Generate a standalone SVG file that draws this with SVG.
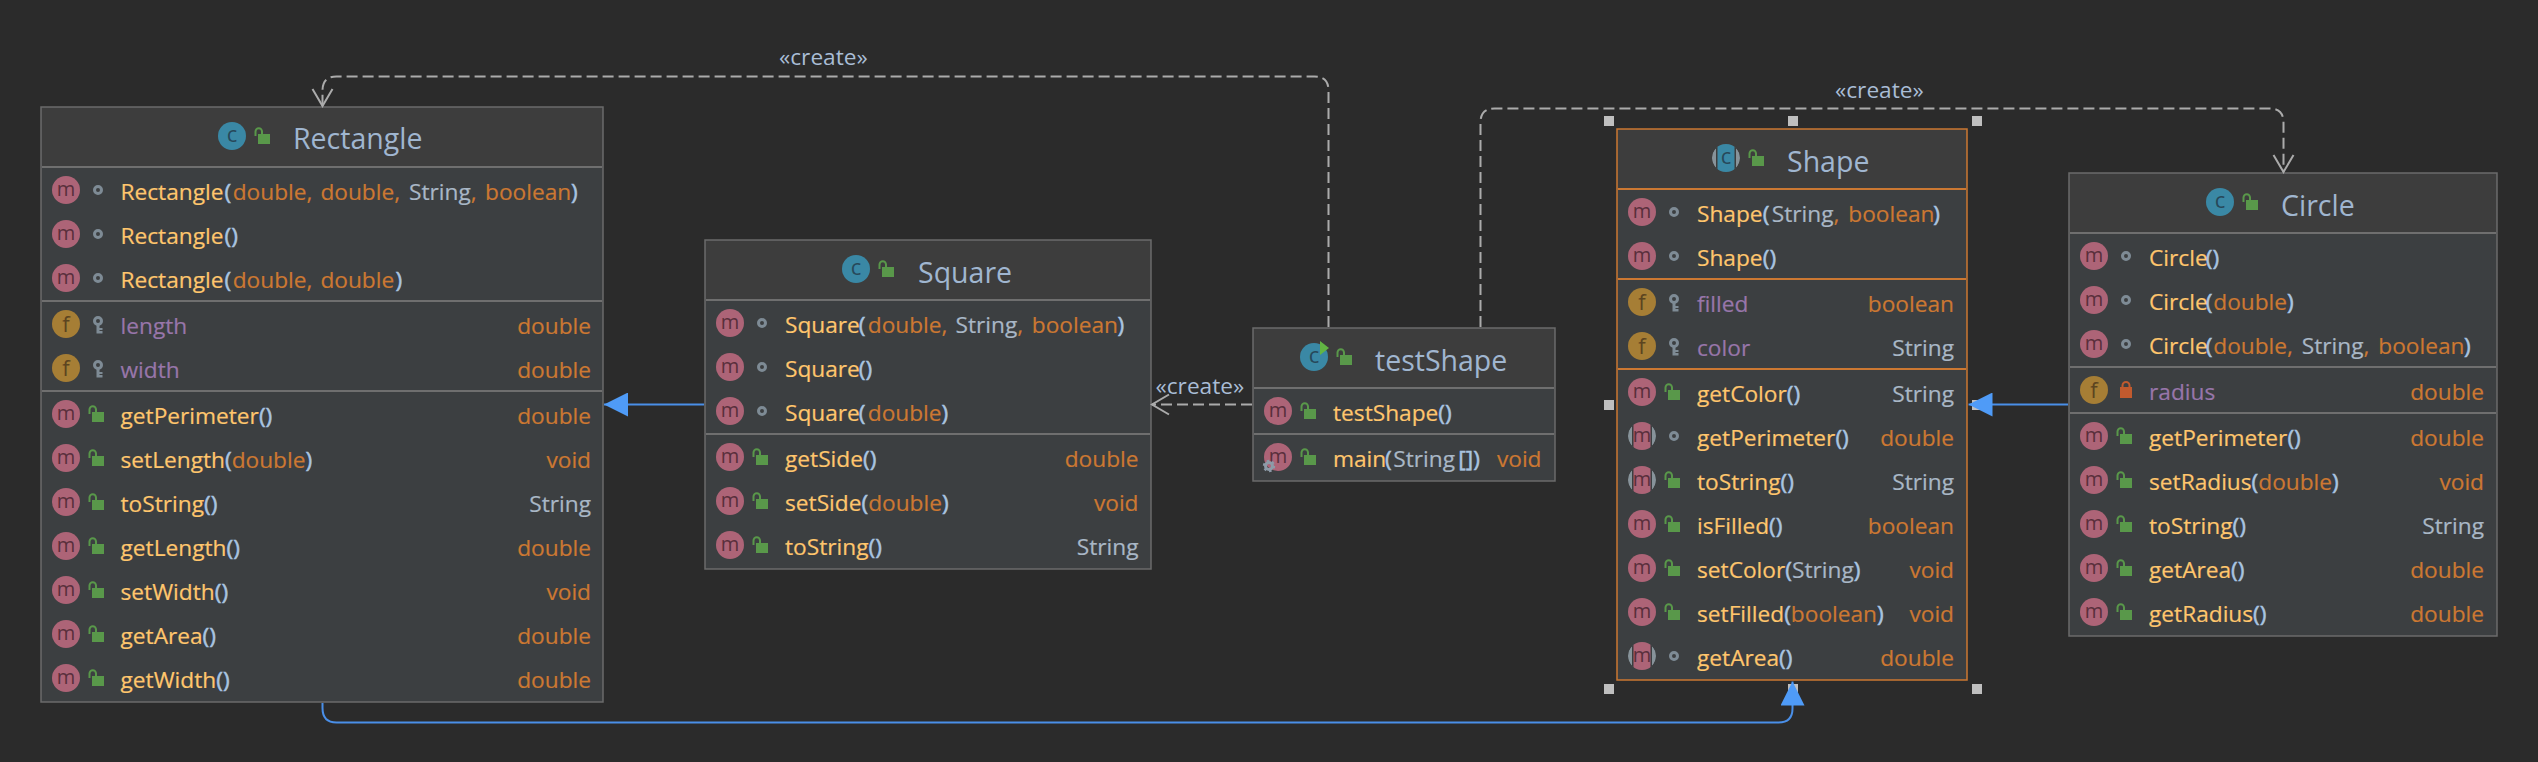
<svg xmlns="http://www.w3.org/2000/svg" width="2538" height="762" viewBox="0 0 2538 762">
<style>
text{font-family:"Open Sans","Noto Sans","Liberation Sans",sans-serif;font-size:22.7px}
.box{fill:#3c3f41;stroke:#6b6b6b;stroke-width:1.5}
.sel{stroke:#cc7832}
.hd{fill:#3d3d3d}
.dv{stroke:#6f6f6f;stroke-width:2;fill:none}
.dvs{stroke:#cc7832;stroke-width:2;fill:none}
.title{font-size:28.5px;fill:#a0b6d0}
.n{fill:#ffc66d;stroke:#ffc66d;stroke-width:.2}
.p{fill:#a9c4e0;stroke:#a9c4e0;stroke-width:.5}
.t{fill:#cc7832;stroke:#cc7832;stroke-width:.2}
.s{fill:#a9b7c6;stroke:#a9b7c6;stroke-width:.2}
.f{fill:#9876aa;stroke:#9876aa;stroke-width:.2}
.r{text-anchor:end}
.lbl{fill:#a9bdd6;font-size:22.7px}
.dash{fill:none;stroke:#ababab;stroke-width:2;stroke-dasharray:11 5}
.gen{fill:none;stroke:#4a8fe8;stroke-width:2}
.h{fill:#bfbfbf}
.il{text-anchor:middle}
</style>
<defs>
<clipPath id="cp"><circle r="14"/></clipPath>
<marker id="open" viewBox="-1 -12 20 24" refX="17" refY="0" markerWidth="20" markerHeight="24" markerUnits="userSpaceOnUse" orient="auto"><path d="M0 -10L17 0L0 10" fill="none" stroke="#ababab" stroke-width="2"/></marker>
<marker id="tri" viewBox="0 -12 24 24" refX="24" refY="0" markerWidth="24" markerHeight="24" markerUnits="userSpaceOnUse" orient="auto"><path d="M0 -12L24 0L0 12Z" fill="#4f9bf7"/></marker>
<g id="im"><circle r="14" fill="#ad6477"/><text class="il" y="5.5" style="font-size:20px;fill:#592f3c">m</text></g>
<g id="ima"><g clip-path="url(#cp)"><circle r="14" fill="#87939a"/><rect x="-10" y="-14" width="20" height="28" fill="#3c3f41"/><rect x="-8.5" y="-14" width="17" height="28" fill="#ad6477"/></g><text class="il" y="5.5" style="font-size:20px;fill:#592f3c">m</text></g>
<g id="if"><circle r="14" fill="#a67e35"/><text class="il" y="8" style="font-size:22px;fill:#5c4420">f</text></g>
<g id="ic"><circle r="14" fill="#3a88a5"/><text class="il" y="6" style="font-size:22px;fill:#27485a">c</text></g>
<g id="ica"><g clip-path="url(#cp)"><circle r="14" fill="#87939a"/><rect x="-10" y="-14" width="20" height="28" fill="#3d3d3d"/><rect x="-8.5" y="-14" width="17" height="28" fill="#3a88a5"/></g><text class="il" y="6" style="font-size:22px;fill:#27485a">c</text></g>
<g id="lo"><rect x="0" y="-2" width="12" height="10" fill="#59984a"/><path d="M-2.5 0V-4.5A3.2 3.2 0 0 1 4 -4.5V-2" fill="none" stroke="#59984a" stroke-width="2"/></g>
<g id="lp"><rect x="-6" y="-3" width="12" height="11" fill="#c15a2e"/><path d="M-3.5 -3V-4.5A3.5 3.5 0 0 1 3.5 -4.5V-3" fill="none" stroke="#c15a2e" stroke-width="2"/></g>
<g id="ring"><circle r="3.5" fill="none" stroke="#7e8b95" stroke-width="3"/></g>
<g id="key"><circle cy="-3" r="3.5" fill="none" stroke="#7e8b95" stroke-width="3"/><path d="M-1.5 1H1.5V4H4.5V6H1.5V7H4.5V9.5H-1.5Z" fill="#7e8b95"/></g>
<g id="gear"><circle r="3.5" fill="none" stroke="#8d9ba8" stroke-width="3"/><circle r="5.2" fill="none" stroke="#8d9ba8" stroke-width="2" stroke-dasharray="2.5 2.9"/></g>
</defs>
<rect width="2538" height="762" fill="#2b2b2b"/>

<g id="selection-handles" class="h">
<rect x="1604" y="116" width="10" height="10"/><rect x="1788" y="116" width="10" height="10"/><rect x="1972" y="116" width="10" height="10"/>
<rect x="1604" y="400" width="10" height="10"/><rect x="1972" y="400" width="10" height="10"/>
<rect x="1604" y="684" width="10" height="10"/><rect x="1788" y="684" width="10" height="10"/><rect x="1972" y="684" width="10" height="10"/>
</g>

<g id="node-rectangle">
<rect class="box" x="41" y="107" width="562" height="595"/>
<rect class="hd" x="42" y="108" width="560" height="59"/>
<use href="#ic" x="232" y="136"/><use href="#lo" x="258" y="136"/>
<text class="title" x="293" y="149">Rectangle</text>
<path class="dv" d="M42 167H602M42 301H602M42 391H602"/>
<use href="#im" x="66" y="190"/><use href="#ring" x="98" y="190"/>
<text x="120.5" y="200"><tspan class="n">Rectangle</tspan><tspan class="p" x="224.5">(</tspan><tspan class="t" x="232.7">double,</tspan><tspan class="t" x="320.4">double,</tspan><tspan class="s" x="409">String</tspan><tspan class="t">,</tspan><tspan class="t" x="485">boolean</tspan><tspan class="p" x="571">)</tspan></text>
<use href="#im" x="66" y="234"/><use href="#ring" x="98" y="234"/>
<text x="120.5" y="244"><tspan class="n">Rectangle</tspan><tspan class="p" x="224.5">()</tspan></text>
<use href="#im" x="66" y="278"/><use href="#ring" x="98" y="278"/>
<text x="120.5" y="288"><tspan class="n">Rectangle</tspan><tspan class="p" x="224.5">(</tspan><tspan class="t" x="232.7">double,</tspan><tspan class="t" x="320.4">double</tspan><tspan class="p" x="395.5">)</tspan></text>
<use href="#if" x="66" y="324"/><use href="#key" x="98" y="324"/>
<text class="f" x="120.5" y="334">length</text><text class="t r" x="591" y="334">double</text>
<use href="#if" x="66" y="368"/><use href="#key" x="98" y="368"/>
<text class="f" x="120.5" y="378">width</text><text class="t r" x="591" y="378">double</text>
<use href="#im" x="66" y="414"/><use href="#lo" x="92" y="414"/>
<text x="120.5" y="424"><tspan class="n">getPerimeter</tspan><tspan class="p">()</tspan></text><text class="t r" x="591" y="424">double</text>
<use href="#im" x="66" y="458"/><use href="#lo" x="92" y="458"/>
<text x="120.5" y="468"><tspan class="n">setLength</tspan><tspan class="p">(</tspan><tspan class="t">double</tspan><tspan class="p">)</tspan></text><text class="t r" x="591" y="468">void</text>
<use href="#im" x="66" y="502"/><use href="#lo" x="92" y="502"/>
<text x="120.5" y="512"><tspan class="n">toString</tspan><tspan class="p">()</tspan></text><text class="s r" x="591" y="512">String</text>
<use href="#im" x="66" y="546"/><use href="#lo" x="92" y="546"/>
<text x="120.5" y="556"><tspan class="n">getLength</tspan><tspan class="p">()</tspan></text><text class="t r" x="591" y="556">double</text>
<use href="#im" x="66" y="590"/><use href="#lo" x="92" y="590"/>
<text x="120.5" y="600"><tspan class="n">setWidth</tspan><tspan class="p">()</tspan></text><text class="t r" x="591" y="600">void</text>
<use href="#im" x="66" y="634"/><use href="#lo" x="92" y="634"/>
<text x="120.5" y="644"><tspan class="n">getArea</tspan><tspan class="p">()</tspan></text><text class="t r" x="591" y="644">double</text>
<use href="#im" x="66" y="678"/><use href="#lo" x="92" y="678"/>
<text x="120.5" y="688"><tspan class="n">getWidth</tspan><tspan class="p">()</tspan></text><text class="t r" x="591" y="688">double</text>
</g>

<g id="node-square">
<rect class="box" x="705" y="240" width="446" height="329"/>
<rect class="hd" x="706" y="241" width="444" height="59"/>
<use href="#ic" x="856" y="269"/><use href="#lo" x="882" y="269"/>
<text class="title" x="918" y="283">Square</text>
<path class="dv" d="M706 300H1150M706 434H1150"/>
<use href="#im" x="730" y="323"/><use href="#ring" x="762" y="323"/>
<text x="785" y="333"><tspan class="n">Square</tspan><tspan class="p" x="858.8">(</tspan><tspan class="t" x="867.8">double,</tspan><tspan class="s" x="955.5">String</tspan><tspan class="t">,</tspan><tspan class="t" x="1031.8">boolean</tspan><tspan class="p" x="1117.5">)</tspan></text>
<use href="#im" x="730" y="367"/><use href="#ring" x="762" y="367"/>
<text x="785" y="377"><tspan class="n">Square</tspan><tspan class="p" x="858.8">()</tspan></text>
<use href="#im" x="730" y="411"/><use href="#ring" x="762" y="411"/>
<text x="785" y="421"><tspan class="n">Square</tspan><tspan class="p" x="858.8">(</tspan><tspan class="t" x="867.8">double</tspan><tspan class="p">)</tspan></text>
<use href="#im" x="730" y="457"/><use href="#lo" x="756" y="457"/>
<text x="785" y="467"><tspan class="n">getSide</tspan><tspan class="p">()</tspan></text><text class="t r" x="1138.5" y="467">double</text>
<use href="#im" x="730" y="501"/><use href="#lo" x="756" y="501"/>
<text x="785" y="511"><tspan class="n">setSide</tspan><tspan class="p">(</tspan><tspan class="t">double</tspan><tspan class="p">)</tspan></text><text class="t r" x="1138.5" y="511">void</text>
<use href="#im" x="730" y="545"/><use href="#lo" x="756" y="545"/>
<text x="785" y="555"><tspan class="n">toString</tspan><tspan class="p">()</tspan></text><text class="s r" x="1138.5" y="555">String</text>
</g>

<g id="node-testshape">
<rect class="box" x="1253" y="328" width="302" height="153"/>
<rect class="hd" x="1254" y="329" width="300" height="59"/>
<use href="#ic" x="1314" y="357"/><path d="M1320 341L1329 348L1320 355Z" fill="#62b543"/><use href="#lo" x="1340" y="357"/>
<text class="title" x="1375" y="371">testShape</text>
<path class="dv" d="M1254 388H1554M1254 434H1554"/>
<use href="#im" x="1278" y="411"/><use href="#lo" x="1304" y="411"/>
<text x="1333" y="421"><tspan class="n">testShape</tspan><tspan class="p">()</tspan></text>
<use href="#im" x="1278" y="457"/><use href="#gear" x="1269" y="466"/><use href="#lo" x="1304" y="457"/>
<text x="1333" y="467"><tspan class="n">main</tspan><tspan class="p" x="1385">(</tspan><tspan class="s" x="1393.3">String</tspan><tspan class="p" x="1458.3">[])</tspan></text><text class="t r" x="1541.5" y="467">void</text>
</g>

<g id="node-shape">
<rect class="box sel" x="1617" y="129" width="350" height="551"/>
<rect class="hd" x="1618" y="130" width="348" height="59"/>
<use href="#ica" x="1726" y="158"/><use href="#lo" x="1752" y="158"/>
<text class="title" x="1787" y="172">Shape</text>
<path class="dvs" d="M1618 189H1966M1618 279H1966M1618 369H1966"/>
<use href="#im" x="1642" y="212"/><use href="#ring" x="1674" y="212"/>
<text x="1697" y="222"><tspan class="n">Shape</tspan><tspan class="p" x="1762.7">(</tspan><tspan class="s" x="1771.7">String</tspan><tspan class="t">,</tspan><tspan class="t" x="1848.3">boolean</tspan><tspan class="p" x="1933.3">)</tspan></text>
<use href="#im" x="1642" y="256"/><use href="#ring" x="1674" y="256"/>
<text x="1697" y="266"><tspan class="n">Shape</tspan><tspan class="p" x="1762.7">()</tspan></text>
<use href="#if" x="1642" y="302"/><use href="#key" x="1674" y="302"/>
<text class="f" x="1697" y="312">filled</text><text class="t r" x="1954" y="312">boolean</text>
<use href="#if" x="1642" y="346"/><use href="#key" x="1674" y="346"/>
<text class="f" x="1697" y="356">color</text><text class="s r" x="1954" y="356">String</text>
<use href="#im" x="1642" y="392"/><use href="#lo" x="1668" y="392"/>
<text x="1697" y="402"><tspan class="n">getColor</tspan><tspan class="p">()</tspan></text><text class="s r" x="1954" y="402">String</text>
<use href="#ima" x="1642" y="436"/><use href="#ring" x="1674" y="436"/>
<text x="1697" y="446"><tspan class="n">getPerimeter</tspan><tspan class="p">()</tspan></text><text class="t r" x="1954" y="446">double</text>
<use href="#ima" x="1642" y="480"/><use href="#lo" x="1668" y="480"/>
<text x="1697" y="490"><tspan class="n">toString</tspan><tspan class="p">()</tspan></text><text class="s r" x="1954" y="490">String</text>
<use href="#im" x="1642" y="524"/><use href="#lo" x="1668" y="524"/>
<text x="1697" y="534"><tspan class="n">isFilled</tspan><tspan class="p">()</tspan></text><text class="t r" x="1954" y="534">boolean</text>
<use href="#im" x="1642" y="568"/><use href="#lo" x="1668" y="568"/>
<text x="1697" y="578"><tspan class="n">setColor</tspan><tspan class="p">(</tspan><tspan class="s">String</tspan><tspan class="p">)</tspan></text><text class="t r" x="1954" y="578">void</text>
<use href="#im" x="1642" y="612"/><use href="#lo" x="1668" y="612"/>
<text x="1697" y="622"><tspan class="n">setFilled</tspan><tspan class="p">(</tspan><tspan class="t">boolean</tspan><tspan class="p">)</tspan></text><text class="t r" x="1954" y="622">void</text>
<use href="#ima" x="1642" y="656"/><use href="#ring" x="1674" y="656"/>
<text x="1697" y="666"><tspan class="n">getArea</tspan><tspan class="p">()</tspan></text><text class="t r" x="1954" y="666">double</text>
</g>

<g id="node-circle">
<rect class="box" x="2069" y="173" width="428" height="463"/>
<rect class="hd" x="2070" y="174" width="426" height="59"/>
<use href="#ic" x="2220" y="202"/><use href="#lo" x="2246" y="202"/>
<text class="title" x="2281" y="216">Circle</text>
<path class="dv" d="M2070 233H2496M2070 367H2496M2070 413H2496"/>
<use href="#im" x="2094" y="256"/><use href="#ring" x="2126" y="256"/>
<text x="2149" y="266"><tspan class="n">Circle</tspan><tspan class="p" x="2205.7">()</tspan></text>
<use href="#im" x="2094" y="300"/><use href="#ring" x="2126" y="300"/>
<text x="2149" y="310"><tspan class="n">Circle</tspan><tspan class="p" x="2205.7">(</tspan><tspan class="t" x="2213.3">double</tspan><tspan class="p">)</tspan></text>
<use href="#im" x="2094" y="344"/><use href="#ring" x="2126" y="344"/>
<text x="2149" y="354"><tspan class="n">Circle</tspan><tspan class="p" x="2205.7">(</tspan><tspan class="t" x="2213.3">double,</tspan><tspan class="s" x="2301.7">String</tspan><tspan class="t">,</tspan><tspan class="t" x="2378.3">boolean</tspan><tspan class="p" x="2464">)</tspan></text>
<use href="#if" x="2094" y="390"/><use href="#lp" x="2126" y="390"/>
<text class="f" x="2149" y="400">radius</text><text class="t r" x="2484" y="400">double</text>
<use href="#im" x="2094" y="436"/><use href="#lo" x="2120" y="436"/>
<text x="2149" y="446"><tspan class="n">getPerimeter</tspan><tspan class="p">()</tspan></text><text class="t r" x="2484" y="446">double</text>
<use href="#im" x="2094" y="480"/><use href="#lo" x="2120" y="480"/>
<text x="2149" y="490"><tspan class="n">setRadius</tspan><tspan class="p">(</tspan><tspan class="t">double</tspan><tspan class="p">)</tspan></text><text class="t r" x="2484" y="490">void</text>
<use href="#im" x="2094" y="524"/><use href="#lo" x="2120" y="524"/>
<text x="2149" y="534"><tspan class="n">toString</tspan><tspan class="p">()</tspan></text><text class="s r" x="2484" y="534">String</text>
<use href="#im" x="2094" y="568"/><use href="#lo" x="2120" y="568"/>
<text x="2149" y="578"><tspan class="n">getArea</tspan><tspan class="p">()</tspan></text><text class="t r" x="2484" y="578">double</text>
<use href="#im" x="2094" y="612"/><use href="#lo" x="2120" y="612"/>
<text x="2149" y="622"><tspan class="n">getRadius</tspan><tspan class="p">()</tspan></text><text class="t r" x="2484" y="622">double</text>
</g>

<g id="connectors">
<path class="dash" marker-end="url(#open)" d="M1328.5 327V90.5Q1328.5 76.5 1314.5 76.5H336.5Q322.5 76.5 322.5 90.5V106"/>
<path class="dash" marker-end="url(#open)" d="M1480.5 327V122.5Q1480.5 108.5 1494.5 108.5H2269.5Q2283.5 108.5 2283.5 122.5V172"/>
<path class="dash" marker-end="url(#open)" d="M1252 404.5H1152"/>
<path class="gen" marker-end="url(#tri)" d="M704 404.5H604"/>
<path class="gen" marker-end="url(#tri)" d="M2068 404.5H1968.5"/>
<path class="gen" marker-end="url(#tri)" d="M322.5 703V708Q322.5 722.5 336.5 722.5H1778.5Q1792.5 722.5 1792.5 708.5V681.5"/>
<text class="lbl" x="779" y="65">«create»</text>
<text class="lbl" x="1835" y="98">«create»</text>
<text class="lbl" x="1155.5" y="394">«create»</text>
</g>
</svg>
